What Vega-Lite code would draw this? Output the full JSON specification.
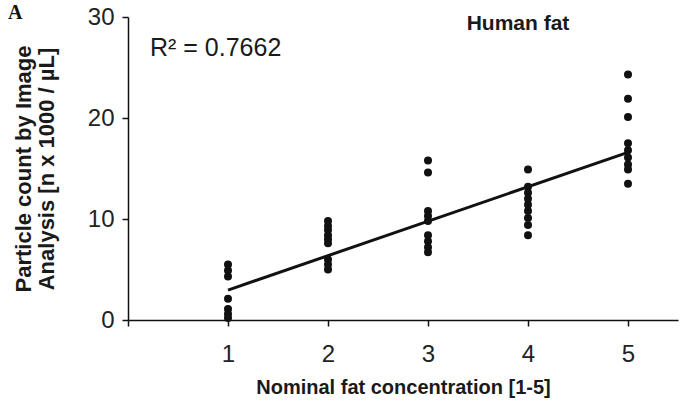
{
  "$schema": "https://vega.github.io/schema/vega-lite/v6.json",
  "width": 550,
  "height": 303,
  "autosize": {"type": "none"},
  "padding": {"left": 128, "top": 17, "right": 19, "bottom": 96},
  "background": "white",
  "config": {
    "view": {"stroke": null},
    "font": "Liberation Sans",
    "axis": {
      "grid": false,
      "domainColor": "#111",
      "tickColor": "#111",
      "domainWidth": 1.5,
      "tickWidth": 1.5,
      "tickSize": 6,
      "labelColor": "#222",
      "titleColor": "#1a1a1a",
      "labelFont": "Liberation Sans",
      "titleFont": "Liberation Sans",
      "labelFontSize": 24,
      "titleFontSize": 21,
      "titleFontWeight": "bold"
    }
  },
  "datasets": {
    "points": [
      {"concentration": 1, "count": 5.5},
      {"concentration": 1, "count": 4.9},
      {"concentration": 1, "count": 4.3},
      {"concentration": 1, "count": 2.1},
      {"concentration": 1, "count": 1.1},
      {"concentration": 1, "count": 0.6},
      {"concentration": 1, "count": 0.2},
      {"concentration": 2, "count": 9.8},
      {"concentration": 2, "count": 9.3},
      {"concentration": 2, "count": 8.9},
      {"concentration": 2, "count": 8.4},
      {"concentration": 2, "count": 8.0},
      {"concentration": 2, "count": 7.6},
      {"concentration": 2, "count": 6.0},
      {"concentration": 2, "count": 5.5},
      {"concentration": 2, "count": 5.0},
      {"concentration": 3, "count": 15.8},
      {"concentration": 3, "count": 14.6},
      {"concentration": 3, "count": 10.8},
      {"concentration": 3, "count": 10.3},
      {"concentration": 3, "count": 9.8},
      {"concentration": 3, "count": 8.4},
      {"concentration": 3, "count": 7.8},
      {"concentration": 3, "count": 7.2},
      {"concentration": 3, "count": 6.7},
      {"concentration": 4, "count": 14.9},
      {"concentration": 4, "count": 13.2},
      {"concentration": 4, "count": 12.6},
      {"concentration": 4, "count": 12.0},
      {"concentration": 4, "count": 11.4},
      {"concentration": 4, "count": 10.8},
      {"concentration": 4, "count": 10.1},
      {"concentration": 4, "count": 9.4},
      {"concentration": 4, "count": 8.4},
      {"concentration": 5, "count": 24.3},
      {"concentration": 5, "count": 21.9},
      {"concentration": 5, "count": 20.1},
      {"concentration": 5, "count": 17.5},
      {"concentration": 5, "count": 16.8},
      {"concentration": 5, "count": 16.1},
      {"concentration": 5, "count": 15.4},
      {"concentration": 5, "count": 14.9},
      {"concentration": 5, "count": 13.5}
    ],
    "fit": [
      {"concentration": 1, "count": 2.96},
      {"concentration": 5, "count": 16.6}
    ]
  },
  "layer": [
    {
      "data": {"name": "points"},
      "mark": {"type": "circle", "size": 64, "color": "#111", "opacity": 1},
      "encoding": {
        "x": {
          "field": "concentration",
          "type": "quantitative",
          "scale": {"domain": [0, 5.5], "nice": false},
          "axis": {
            "title": "Nominal fat concentration [1-5]",
            "titleFontSize": 20,
            "values": [0, 1, 2, 3, 4, 5],
            "format": "d",
            "labelExpr": "datum.value == 0 ? '' : datum.label",
            "labelPadding": 16,
            "titlePadding": 11
          }
        },
        "y": {
          "field": "count",
          "type": "quantitative",
          "scale": {"domain": [0, 30], "nice": false},
          "axis": {
            "title": ["Particle count by Image", "Analysis [n x 1000 / µL]"],
            "titleFontSize": 22,
            "values": [0, 10, 20, 30],
            "format": "d",
            "labelPadding": 8,
            "titlePadding": 29,
            "titleLineHeight": 23
          }
        }
      }
    },
    {
      "data": {"name": "fit"},
      "mark": {"type": "line", "color": "#111", "strokeWidth": 3},
      "encoding": {
        "x": {"field": "concentration", "type": "quantitative"},
        "y": {"field": "count", "type": "quantitative"}
      }
    },
    {
      "data": {"values": [{}]},
      "mark": {"type": "text", "font": "Liberation Sans", "fontWeight": "bold", "fontSize": 21, "color": "#1a1a1a", "align": "center", "baseline": "middle"},
      "encoding": {
        "x": {"datum": 3.9, "type": "quantitative"},
        "y": {"datum": 29.3, "type": "quantitative"},
        "text": {"value": "Human fat"}
      }
    },
    {
      "data": {"values": [{}]},
      "mark": {"type": "text", "font": "Liberation Sans", "fontSize": 25, "color": "#1a1a1a", "align": "left", "baseline": "middle"},
      "encoding": {
        "x": {"datum": 0.22, "type": "quantitative"},
        "y": {"datum": 26.9, "type": "quantitative"},
        "text": {"value": "R² = 0.7662"}
      }
    },
    {
      "data": {"values": [{}]},
      "mark": {"type": "text", "font": "Liberation Serif", "fontWeight": "bold", "fontSize": 20, "color": "#111", "align": "left", "baseline": "middle"},
      "encoding": {
        "x": {"datum": -1.2, "type": "quantitative"},
        "y": {"datum": 30.4, "type": "quantitative"},
        "text": {"value": "A"}
      }
    }
  ]
}
